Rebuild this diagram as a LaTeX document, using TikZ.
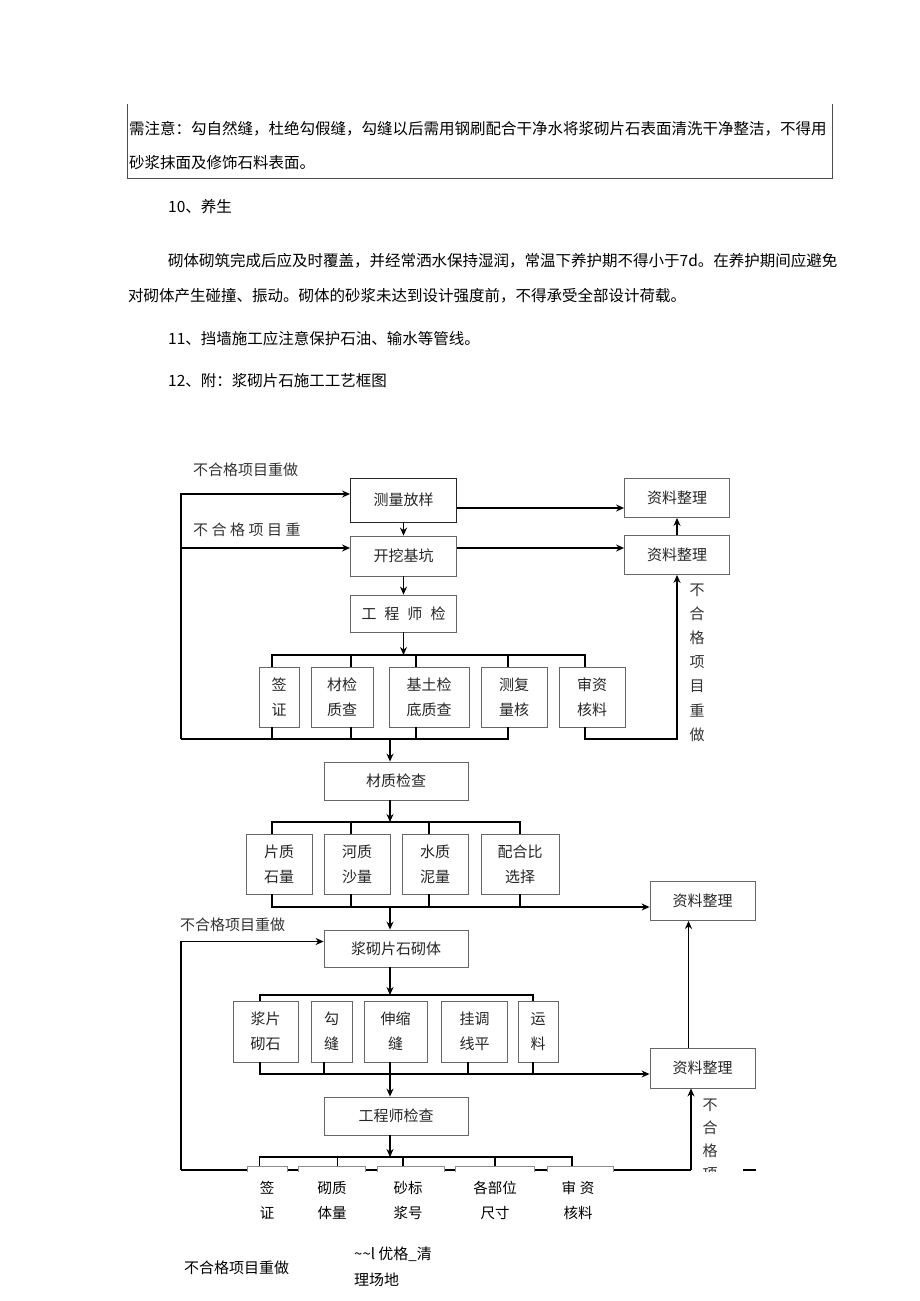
\documentclass[tikz,border=0pt]{standalone}
\usepackage{fontspec}
\setmainfont{Noto Sans CJK SC}
\usetikzlibrary{arrows,arrows.meta,positioning,calc}

\begin{document}
\begin{tikzpicture}[
    x=1pt, y=-1pt,
    box/.style={rectangle, draw=black!60, line width=0.8pt, inner sep=0pt, align=center, text=black!85, font=\fontsize{15}{25}\selectfont},
    docbox/.style={box, minimum width=105, minimum height=39},
    arrow/.style={->, >={Stealth[length=8pt,width=7pt]}, line width=1.3pt},
    link/.style={line width=1.3pt},
    note/.style={anchor=west, inner sep=0pt, font=\fontsize{15.5}{20}\selectfont},
    tag/.style={anchor=west, inner sep=0pt, text=black!80, font=\fontsize{15}{20}\selectfont},
    vlabel/.style={inner sep=0pt, align=center, text=black!80, font=\fontsize{15}{24.2}\selectfont},
    low/.style={inner sep=0pt, align=center, font=\fontsize{14.5}{25}\selectfont}
]
\useasboundingbox (0,0) rectangle (920,1301);
\fill[white] (0,0) rectangle (920,1301);

% Text above the chart
\node[note] (line1) at (129,129) {需注意：勾自然缝，杜绝勾假缝，勾缝以后需用钢刷配合干净水将浆砌片石表面清洗干净整洁，不得用};
\node[note] (line2) at (129,163) {砂浆抹面及修饰石料表面。};
\draw[black!70, line width=0.8pt] (127,104) -- (127,178) -- (832,178) -- (832,104);
\node[note] (sec10) at (168,207) {10、养生};
\node[note] (para1) at (168,261) {砌体砌筑完成后应及时覆盖，并经常洒水保持湿润，常温下养护期不得小于7d。在养护期间应避免};
\node[note] (para2) at (128,296) {对砌体产生碰撞、振动。砌体的砂浆未达到设计强度前，不得承受全部设计荷载。};
\node[note] (sec11) at (168,339) {11、挡墙施工应注意保护石油、输水等管线。};
\node[note] (sec12) at (168,381) {12、附：浆砌片石施工工艺框图};

% Stage 1
\node[box, minimum width=106, minimum height=44, draw=black!85] (survey) at (403.5,500) {测量放样};
\node[docbox] (docA) at (677,498) {资料整理};
\node[box, minimum width=106, minimum height=40] (excav) at (403.5,556) {开挖基坑};
\node[docbox] (docB) at (677,555) {资料整理};
\node[box, minimum width=106, minimum height=37] (engA) at (403.5,613.5) {工\hspace{8pt}程\hspace{8pt}师\hspace{8pt}检};

\node[box, minimum width=40, minimum height=60] (signA) at (279,697) {签\\证};
\node[box, minimum width=62, minimum height=60] (matA) at (342,697) {材检\\质查};
\node[box, minimum width=80, minimum height=60] (baseA) at (429,697) {基土检\\底质查};
\node[box, minimum width=66, minimum height=60] (measA) at (514,697) {测复\\量核};
\node[box, minimum width=66, minimum height=60] (auditA) at (592,697) {审资\\核料};

\coordinate (busA) at (403.5,655);
\coordinate (busA2) at (390,739);
\coordinate (leftA) at (181,739);
\coordinate (rightA) at (677,739);

\node[tag] (redo1) at (193,470) {不合格项目重做};
\node[tag] (redo2) at (193,530) {不\hspace{3.5pt}合\hspace{3.5pt}格\hspace{3.5pt}项\hspace{3.5pt}目\hspace{3.5pt}重};
\node[vlabel] (redoR1) at (697,662.5) {不\\合\\格\\项\\目\\重\\做};

\draw[arrow] (survey) -- (excav);
\draw[arrow] (excav) -- (engA);
\draw[arrow] ([yshift=-8pt]survey.east) -- ([yshift=-8pt]survey.east -| docA.west);
\draw[arrow] ([yshift=8pt]excav.east) -- ([yshift=8pt]excav.east -| docB.west);
\draw[arrow] (docB) -- (docA);
\draw[arrow] (engA) -- (busA);
\draw[link] ([xshift=-7pt]signA.north) |- (busA);
\draw[link] ([xshift=9pt]matA.north) |- (busA);
\draw[link] ([xshift=-13pt]baseA.north) |- (busA);
\draw[link] ([xshift=-6pt]measA.north) |- (busA);
\draw[link] ([xshift=-7pt]auditA.north) |- (busA);
\draw[link] ([xshift=-7pt]signA.south) |- (busA2);
\draw[link] ([xshift=9pt]matA.south) |- (busA2);
\draw[link] ([xshift=-13pt]baseA.south) |- (busA2);
\draw[link] ([xshift=-6pt]measA.south) |- (leftA);
\draw[arrow] (leftA) |- ([yshift=6pt]survey.west);
\draw[arrow] (leftA) |- ([yshift=8pt]excav.west);
\draw[arrow] ([xshift=-7pt]auditA.south) |- (rightA) -- (docB.south);

% Stage 2
\node[box, minimum width=144, minimum height=38] (mat) at (396,781) {材质检查};
\draw[arrow] (busA2) -- (busA2 |- mat.north);

\node[box, minimum width=66, minimum height=60] (stoneB) at (279,864) {片质\\石量};
\node[box, minimum width=66, minimum height=60] (sandB) at (357,864) {河质\\沙量};
\node[box, minimum width=66, minimum height=60] (waterB) at (435,864) {水质\\泥量};
\node[box, minimum width=78, minimum height=60] (mixB) at (520,864) {配合比\\选择};
\node[docbox] (docC) at (702.5,901) {资料整理};

\coordinate (busB) at (390,822);
\coordinate (busB2) at (390,907);
\draw[arrow] (mat.south -| busB) -- (busB);
\draw[link] ([xshift=-7pt]stoneB.north) |- (busB);
\draw[link] ([xshift=-6pt]sandB.north) |- (busB);
\draw[link] ([xshift=-6pt]waterB.north) |- (busB);
\draw[link] (mixB.north) |- (busB);
\draw[arrow] ([xshift=-7pt]stoneB.south) |- ([yshift=-6pt]docC.west);
\draw[link] ([xshift=-6pt]sandB.south) |- (busB2);
\draw[link] ([xshift=-6pt]waterB.south) |- (busB2);
\draw[link] (mixB.south) |- (busB2);

% Stage 3
\node[box, minimum width=144, minimum height=37] (masonry) at (396,948.5) {浆砌片石砌体};
\draw[arrow] (busB2) -- (busB2 |- masonry.north);
\node[tag] (redo3) at (180,925) {不合格项目重做};

\node[box, minimum width=65, minimum height=61] (pieceC) at (265.5,1031.5) {浆片\\砌石};
\node[box, minimum width=41, minimum height=61] (jointC) at (331.5,1031.5) {勾\\缝};
\node[box, minimum width=63, minimum height=61] (expC) at (395.5,1031.5) {伸缩\\缝};
\node[box, minimum width=66, minimum height=61] (lineC) at (474.5,1031.5) {挂调\\线平};
\node[box, minimum width=40, minimum height=61] (carryC) at (538,1031.5) {运\\料};
\node[docbox, minimum height=40] (docD) at (702.5,1068) {资料整理};

\coordinate (busC) at (390,995);
\coordinate (busC2) at (390,1074);
\draw[arrow] (masonry.south -| busC) -- (busC);
\draw[link] ([xshift=-5.5pt]pieceC.north) |- (busC);
\draw[link] ([xshift=-5pt]carryC.north) |- (busC);
\draw[arrow] ([xshift=-5.5pt]pieceC.south) |- ([yshift=-6pt]docD.west);
\draw[link] ([xshift=-7.5pt]jointC.south) |- (busC2);
\draw[link] ([xshift=-5.5pt]expC.south) |- (busC2);
\draw[link] ([xshift=-6.5pt]lineC.south) |- (busC2);
\draw[link] ([xshift=-5pt]carryC.south) |- (busC2);
\draw[arrow] ([xshift=-14pt]docD.north) -- ([xshift=-14pt]docC.south);

% Stage 4
\node[box, minimum width=144, minimum height=38] (engB) at (396,1116) {工程师检查};
\draw[arrow] (busC2) -- (busC2 |- engB.north);

\coordinate (busD) at (390,1157);
\coordinate (leftB) at (181,1170);
\coordinate (rightB) at (691,1170);
\draw[arrow] (engB.south -| busD) -- (busD);
\draw[line width=2.6pt] (leftB) -- (rightB);
\draw[line width=2.6pt] (743,1170) -- (756,1170);
\draw[arrow] (leftB) |- ([yshift=7pt]masonry.west);
\draw[arrow] (rightB) -- (rightB |- docD.south);
\foreach \l/\r in {247/287, 298/365, 377/444, 455/534, 547/613} {
  \fill[white] (\l,1165.5) rectangle (\r,1174);
  \draw[black!45, line width=0.8pt] (\l,1172) -- (\l,1166) -- (\r,1166) -- (\r,1172);
}
\draw[link] (259.6,1166) |- (busD);
\draw[link] (337.5,1166) |- (busD);
\draw[link] (403,1166) |- (busD);
\draw[link] (495,1166) |- (busD);
\draw[link] (572,1166) |- (busD);

\begin{scope}
  \clip (690,1090) rectangle (740,1171);
  \node[vlabel, font=\fontsize{15}{23}\selectfont] (redoR2) at (710,1139.5) {不\\合\\格\\项};
\end{scope}

\node[low] (signD) at (267,1200.5) {签\\证};
\node[low] (matD) at (332,1200.5) {砌质\\体量};
\node[low] (mortarD) at (408,1200.5) {砂标\\浆号};
\node[low] (sizeD) at (495,1200.5) {各部位\\尺寸};
\node[low] (auditD) at (578,1200.5) {审\hspace{4pt}资\\核料};

\node[tag, text=black] (redo4) at (184,1268) {不合格项目重做};
\node[tag, text=black] (clean1) at (354,1254) {\textasciitilde\textasciitilde l 优格\_清};
\node[tag, text=black] (clean2) at (354,1280) {理场地};

\end{tikzpicture}
\end{document}
